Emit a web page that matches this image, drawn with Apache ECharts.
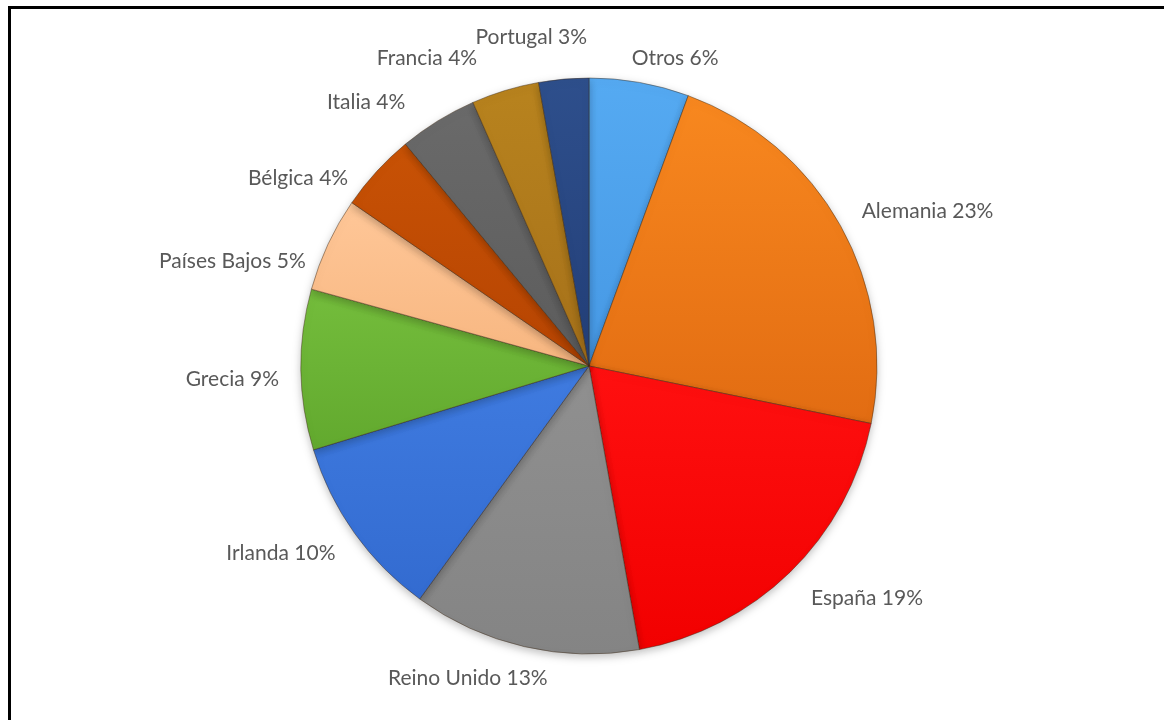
<!DOCTYPE html>
<html>
<head>
<meta charset="utf-8">
<script src="https://cdn.jsdelivr.net/npm/echarts@6/dist/echarts.min.js"></script>
<style>
html,body{margin:0;padding:0;background:#fff;}
#wrap{position:relative;width:1164px;height:720px;overflow:hidden;}
#frame{position:absolute;left:8px;top:6px;width:1200px;height:760px;border-left:3px solid #000;border-top:3px solid #000;box-sizing:border-box;}
#chart{position:absolute;left:0;top:0;width:1164px;height:720px;}
</style>
</head>
<body>
<div id="wrap"><div id="frame"></div><div id="chart"></div></div>
<script>
const categories = ['Otros','Alemania','España','Reino Unido','Irlanda','Grecia','Países Bajos','Bélgica','Italia','Francia','Portugal'];
const values = [5.6, 22.6, 19.0, 12.8, 10.3, 9.0, 5.3, 4.4, 4.4, 3.8, 2.8];
const colorsTop = ['#55aaf2','#f8881f','#ff1010','#909090','#3f7be0','#74bd3c','#ffc798','#c85205','#6a6a6a','#b8831e','#2e4f8c'];
const colorsBottom = ['#4698e4','#e26c12','#f20000','#848484','#336bd0','#62a92e','#f7b680','#b64402','#5c5c5c','#a6711a','#233f78'];
// small label nudges (text only) to mimic the spreadsheet's label placement
const labelNudgeX = [-7, 1, 6, 24, -5, -3, -6, -17, -27, 0, 20];
const labelNudgeY = [5, 0, 5, 2, 3, 9, 30, 27, 7, -14, -12];

const chart = echarts.init(document.getElementById('chart'), null, {renderer:'canvas'});
const data = categories.map((c,i)=>({
  name:c, value:values[i],
  itemStyle:{color:new echarts.graphic.LinearGradient(0,0,0,1,[{offset:0,color:colorsTop[i]},{offset:1,color:colorsBottom[i]}])}
}));
chart.setOption({
  animation:false,
  series:[{
    type:'pie',
    center:[589,366],
    radius:[0,288],
    startAngle:90,
    clockwise:true,
    data:data,
    itemStyle:{borderColor:'rgba(60,40,20,0.45)',borderWidth:1,shadowBlur:8,shadowColor:'rgba(0,0,0,0.25)',shadowOffsetY:3},
    label:{show:true,position:'outside',color:'#595959',fontFamily:'Lato',fontSize:21,
      formatter:p=>p.name+' '+Math.round(p.percent)+'%'},
    labelLine:{show:false,length:30,length2:-11},
    labelLayout:p=>({dx:labelNudgeX[p.dataIndex],dy:labelNudgeY[p.dataIndex]}),
    emphasis:{disabled:true}
  }]
});
</script>
</body>
</html>
